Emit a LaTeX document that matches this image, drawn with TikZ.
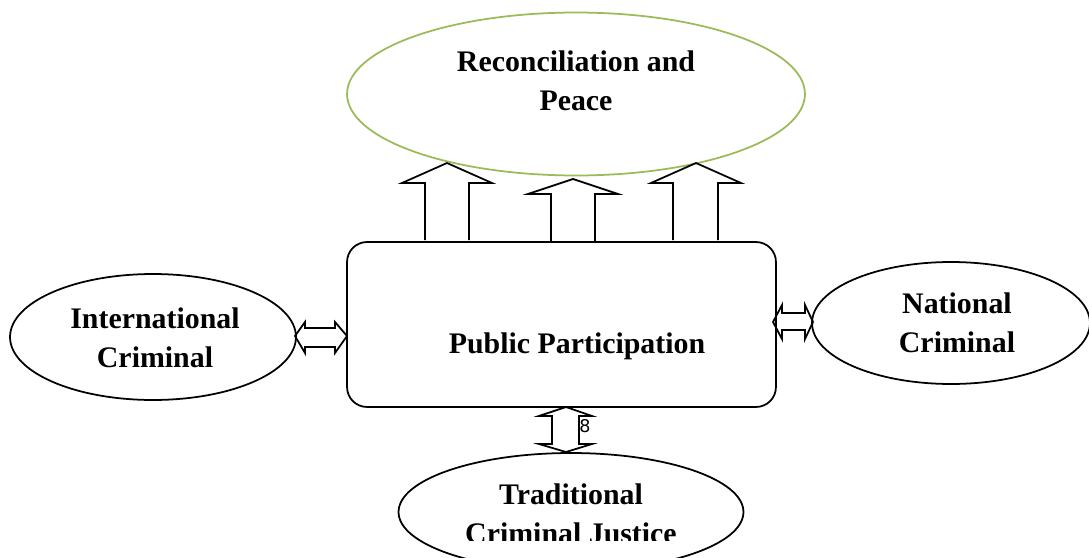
\documentclass[tikz,border=0pt]{standalone}
\usepackage{fontspec}
\setmainfont{Liberation Serif}
\newfontfamily\numfont{DejaVu Sans}
\usepackage{tikz}
\usetikzlibrary{shapes.geometric}
\definecolor{peacegreen}{RGB}{155,187,89}

\begin{document}
\begin{tikzpicture}[x=0.02cm, y=-0.02cm, line width=1pt,
    oval/.style={draw, ellipse, inner sep=0pt},
    lbl/.style={font=\fontsize{17}{22.5}\selectfont\bfseries, align=center},
    blockarrow/.style={draw, line join=miter}]
    \useasboundingbox (0,0) rectangle (1089,558);
    \clip (0,0) rectangle (1089,558);

    % ellipses and the central box
    \node[oval, draw=peacegreen, minimum width=9.16cm, minimum height=3.26cm] (peace) at (576,94) {};
    \node[oval, minimum width=5.72cm, minimum height=2.52cm] (intl) at (153,337) {};
    \node[oval, minimum width=5.56cm, minimum height=2.44cm] (national) at (951,323) {};
    \node[oval, minimum width=6.9cm, minimum height=2.36cm] (traditional) at (571,512) {};
    \node[draw, rounded corners=0.4cm, minimum width=8.58cm, minimum height=3.3cm] (public) at (561.5,324.5) {};

    % texts
    \node[lbl] (peacetext) at (576,81) {Reconciliation and\\Peace};
    \node[lbl] (intltext) at (155,338) {International\\Criminal};
    \node[lbl] (nationaltext) at (957,323) {National\\Criminal};
    \node[lbl, anchor=base] (publictext) at (577,353) {Public Participation};
    \begin{scope}
        \clip (400,450) rectangle (745,540);
        \node[lbl] (tradtext) at (571,514) {Traditional\\Criminal Justice};
    \end{scope}
    \node[font=\numfont\fontsize{10}{12}\selectfont] (eight) at (585,426) {8};

    % up arrows
    \draw[blockarrow] (425,240) -- (425,183) -- (402,183) -- (447,163) -- (492,183) -- (469,183) -- (469,240);
    \draw[blockarrow] (551,242) -- (551,194) -- (528,194) -- (573,179) -- (618,194) -- (595,194) -- (595,242);
    \draw[blockarrow] (673,240) -- (673,183) -- (651,183) -- (696,163) -- (741,183) -- (718,183) -- (718,240);

    % double arrows
    \draw[blockarrow] (295,336) -- (305,322) -- (305,328) -- (335,328) -- (335,322) -- (347,336)
        -- (335,353) -- (335,347) -- (305,347) -- (305,353) -- cycle;
    \draw[blockarrow] (773,322) -- (782,305) -- (782,313) -- (805,313) -- (805,305) -- (813,322)
        -- (805,339) -- (805,330) -- (782,330) -- (782,339) -- cycle;
    \draw[blockarrow] (566,407) -- (592,416) -- (579,416) -- (579,444) -- (592,444) -- (566,452)
        -- (539,444) -- (552,444) -- (552,416) -- (539,416) -- cycle;
\end{tikzpicture}
\end{document}
